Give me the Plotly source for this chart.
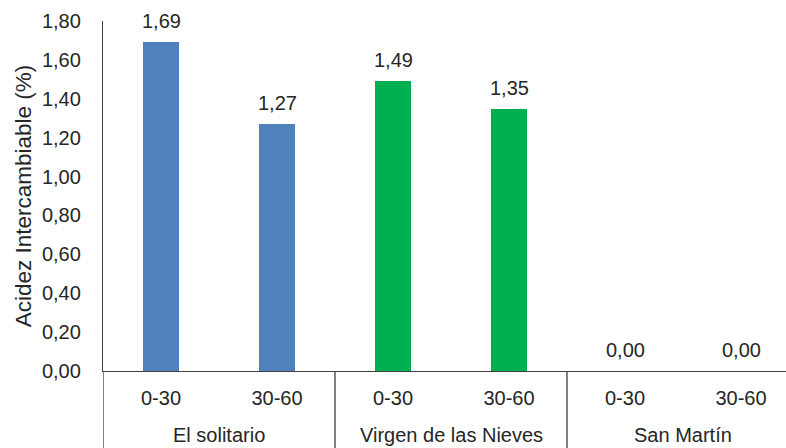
import plotly.graph_objects as go

# Exchangeable acidity by site and soil depth
sites = ["El solitario", "Virgen de las Nieves", "San Martín"]
depths = ["0-30", "30-60"]
acidity = {
    "El solitario": [1.69, 1.27],
    "Virgen de las Nieves": [1.49, 1.35],
    "San Martín": [0.00, 0.00],
}
site_colors = {
    "El solitario": "#4F81BD",
    "Virgen de las Nieves": "#00B050",
    "San Martín": "#7F7F7F",
}
y_ticks = [0.0, 0.2, 0.4, 0.6, 0.8, 1.0, 1.2, 1.4, 1.6, 1.8]

FONT = "Liberation Sans, Arial, sans-serif"
TEXT = "#262626"
LINE = "#404040"
FS = 20

W, H = 786, 448
ML, MR, MT, MB = 103, 0, 21, 77
SLOT = 116  # pixel width of one depth category
plot_h = H - MT - MB

fig = go.Figure()
tickvals, ticktext = [], []
annotations, shapes = [], []
for gi, site in enumerate(sites):
    xs = [gi * len(depths) + di for di in range(len(depths))]
    vals = acidity[site]
    fig.add_trace(go.Bar(
        x=xs, y=vals, width=0.305,
        marker=dict(color=site_colors[site], line=dict(width=0)),
        name=site, showlegend=False, hoverinfo="skip",
    ))
    tickvals += xs
    ticktext += depths
    for x, v in zip(xs, vals):
        annotations.append(dict(
            x=x, y=v, xref="x", yref="y", text=f"{v:.2f}".replace(".", ","),
            showarrow=False, yanchor="bottom", yshift=8,
            font=dict(family=FONT, size=FS, color=TEXT),
        ))
    # group label below the depth labels
    annotations.append(dict(
        x=gi * len(depths) + (len(depths) - 1) / 2, y=-(435 - (H - MB)) / plot_h,
        xref="x", yref="paper", text=site, showarrow=False,
        yanchor="middle", font=dict(family=FONT, size=FS, color=TEXT),
    ))
    # group divider lines
    shapes.append(dict(
        type="line", xref="x", yref="paper",
        x0=gi * len(depths) - 0.5, x1=gi * len(depths) - 0.5,
        y0=0, y1=-MB / plot_h, line=dict(color=LINE, width=1.3),
    ))

x_max = -0.5 + (W - ML - MR) / SLOT

fig.update_layout(
    width=W, height=H,
    margin=dict(l=ML, r=MR, t=MT, b=MB),
    plot_bgcolor="white", paper_bgcolor="white",
    separators=",.",
    font=dict(family=FONT, color=TEXT, size=FS),
    xaxis=dict(
        range=[-0.5, x_max], tickvals=tickvals, ticktext=ticktext,
        showgrid=False, zeroline=False,
        showline=True, linecolor=LINE, linewidth=1.3,
        ticks="outside", ticklen=9, tickcolor="rgba(0,0,0,0)",
        tickfont=dict(family=FONT, size=FS, color=TEXT),
    ),
    yaxis=dict(
        range=[0, 1.8], tickvals=y_ticks, tickformat=".2f",
        showgrid=False, zeroline=False,
        showline=True, linecolor=LINE, linewidth=1.3,
        ticks="outside", ticklen=17, tickcolor="rgba(0,0,0,0)",
        tickfont=dict(family=FONT, size=FS, color=TEXT),
        title=dict(text="Acidez Intercambiable (%)", standoff=4,
                   font=dict(family=FONT, size=22.5, color=TEXT)),
    ),
    annotations=annotations,
    shapes=shapes,
    bargap=0,
)

fig.write_html("out.html")
